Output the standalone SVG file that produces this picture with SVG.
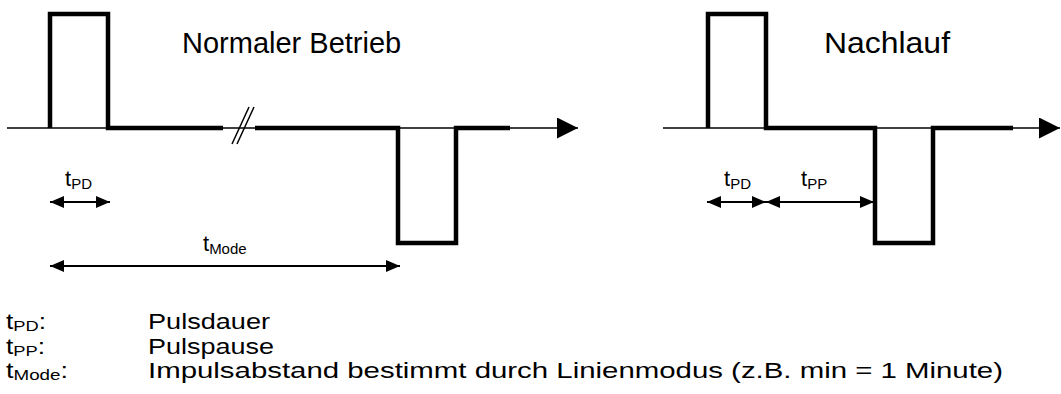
<svg xmlns="http://www.w3.org/2000/svg" width="1061" height="394" viewBox="0 0 1061 394">
<style>
text{font-family:"Liberation Sans",Arial,sans-serif;fill:#000}
.title{font-size:29px}
.lbl{font-size:22px}
.sub{font-size:15px}
.leg{font-size:21.5px}
.legsub{font-size:15px}
.axis{stroke:#000;stroke-width:1.5;fill:none}
.sig{stroke:#000;stroke-width:4.5;fill:none;stroke-linejoin:miter;stroke-linecap:butt}
.dim{stroke:#000;stroke-width:2;fill:none}
</style>
<defs>
<marker id="ah" viewBox="0 0 14 12" refX="14" refY="6" markerWidth="14" markerHeight="12" markerUnits="userSpaceOnUse" orient="auto-start-reverse">
<path d="M0,0 L14,6 L0,12 Z" fill="#000"/>
</marker>
<marker id="axh" viewBox="0 0 21 21" refX="21" refY="10.5" markerWidth="21" markerHeight="21" markerUnits="userSpaceOnUse" orient="auto">
<path d="M0,0 L21,10.5 L0,21 Z" fill="#000"/>
</marker>
</defs>
<g id="connectors">
<line class="axis" x1="7" y1="128" x2="578" y2="128" marker-end="url(#axh)"/>
<line class="axis" x1="663" y1="128" x2="1060" y2="128" marker-end="url(#axh)"/>
<line class="axis" x1="232" y1="144" x2="249" y2="107"/>
<line class="axis" x1="237" y1="144" x2="254" y2="107"/>
<line class="dim" x1="50" y1="202" x2="110" y2="202" marker-start="url(#ah)" marker-end="url(#ah)"/>
<line class="dim" x1="50" y1="266" x2="400" y2="266" marker-start="url(#ah)" marker-end="url(#ah)"/>
<line class="dim" x1="707" y1="202" x2="766" y2="202" marker-start="url(#ah)" marker-end="url(#ah)"/>
<line class="dim" x1="766" y1="202" x2="874" y2="202" marker-start="url(#ah)" marker-end="url(#ah)"/>
</g>
<g id="signal-normal">
<path class="sig" d="M50,128 V14 H108 V128 H223"/>
<path class="sig" d="M255,128 H398 V243 H456 V128 H510"/>
</g>
<g id="signal-nachlauf">
<path class="sig" d="M708,128 V14 H766 V128 H875 V243 H933 V128 H1013"/>
</g>
<g id="titles">
<text class="title" x="182" y="53">Normaler Betrieb</text>
<text class="title" x="824" y="53" style="font-size:30px" textLength="126" lengthAdjust="spacingAndGlyphs">Nachlauf</text>
</g>
<g id="labels">
<text class="lbl" x="65" y="186">t<tspan class="sub" dy="3">PD</tspan></text>
<text class="lbl" x="203" y="251">t<tspan class="sub" dy="3">Mode</tspan></text>
<text class="lbl" x="724" y="186">t<tspan class="sub" dy="3">PD</tspan></text>
<text class="lbl" x="801" y="186">t<tspan class="sub" dy="3">PP</tspan></text>
</g>
<g id="legend">
<text class="leg" x="6" y="329" textLength="40" lengthAdjust="spacingAndGlyphs">t<tspan class="legsub" dy="2">PD</tspan><tspan dy="-2">:</tspan></text>
<text class="leg" x="6" y="353.5" textLength="39" lengthAdjust="spacingAndGlyphs">t<tspan class="legsub" dy="2">PP</tspan><tspan dy="-2">:</tspan></text>
<text class="leg" x="6" y="378" textLength="62" lengthAdjust="spacingAndGlyphs">t<tspan class="legsub" dy="2">Mode</tspan><tspan dy="-2">:</tspan></text>
<text class="leg" x="148" y="329" textLength="122" lengthAdjust="spacingAndGlyphs">Pulsdauer</text>
<text class="leg" x="148" y="353.5" textLength="126" lengthAdjust="spacingAndGlyphs">Pulspause</text>
<text class="leg" x="148" y="378" textLength="855" lengthAdjust="spacingAndGlyphs">Impulsabstand bestimmt durch Linienmodus (z.B. min = 1 Minute)</text>
</g>
</svg>
